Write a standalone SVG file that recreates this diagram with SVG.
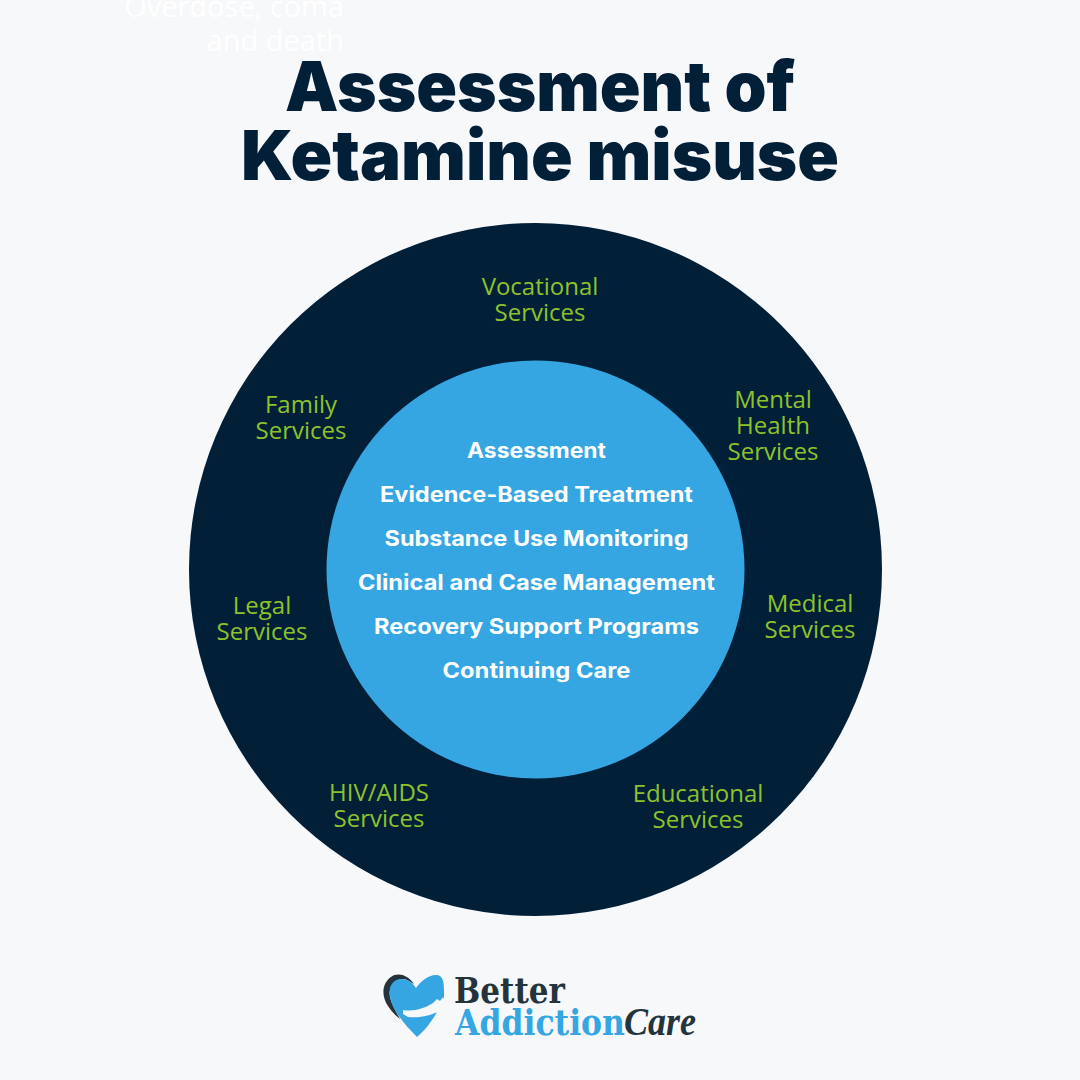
<svg xmlns="http://www.w3.org/2000/svg" width="1080" height="1080" viewBox="0 0 1080 1080">
<style>
.t{font-family:"Inter","Liberation Sans",sans-serif;font-weight:900;font-size:69px;fill:#021f38;text-anchor:middle}
.o{font-family:"Open Sans","Noto Sans",sans-serif;font-size:24px;fill:#8cc22c;text-anchor:middle}
.i{font-family:"Inter","Liberation Sans",sans-serif;font-weight:700;font-size:21px;fill:#fff;text-anchor:middle}
.g{font-family:"Open Sans","Noto Sans",sans-serif;font-size:29px;fill:#fff;text-anchor:end}
.l{font-family:"DejaVu Serif",serif;font-weight:700;font-size:35px}
</style>
<rect width="1080" height="1080" fill="#f6f8fa"/>
<g id="ghost-text"><text class="g" x="344" y="17">Overdose, coma</text><text class="g" x="344" y="51">and death</text></g>
<g id="title"><text class="t" x="540" y="111" textLength="510" lengthAdjust="spacingAndGlyphs">Assessment of</text><text class="t" x="540" y="180" textLength="598" lengthAdjust="spacingAndGlyphs">Ketamine misuse</text></g>
<g id="outer-ring"><circle cx="535.500" cy="569.500" r="346.500" fill="#021f38"/></g>
<g id="inner-circle"><circle cx="535.500" cy="569.500" r="209" fill="#35a6e2"/>
<text class="i" x="536.500" y="458" textLength="139" lengthAdjust="spacingAndGlyphs">Assessment</text>
<text class="i" x="536.500" y="502" textLength="313" lengthAdjust="spacingAndGlyphs">Evidence-Based Treatment</text>
<text class="i" x="536.500" y="546" textLength="304" lengthAdjust="spacingAndGlyphs">Substance Use Monitoring</text>
<text class="i" x="536.500" y="590" textLength="357" lengthAdjust="spacingAndGlyphs">Clinical and Case Management</text>
<text class="i" x="536.500" y="634" textLength="325" lengthAdjust="spacingAndGlyphs">Recovery Support Programs</text>
<text class="i" x="536.500" y="678" textLength="188" lengthAdjust="spacingAndGlyphs">Continuing Care</text></g>
<g id="vocational"><text class="o" x="540" y="295">Vocational</text><text class="o" x="540" y="321">Services</text></g>
<g id="mental"><text class="o" x="773" y="408">Mental</text><text class="o" x="773" y="434">Health</text><text class="o" x="773" y="460">Services</text></g>
<g id="medical"><text class="o" x="810" y="612">Medical</text><text class="o" x="810" y="638">Services</text></g>
<g id="educational"><text class="o" x="698" y="802">Educational</text><text class="o" x="698" y="828">Services</text></g>
<g id="hiv"><text class="o" x="379" y="801">HIV/AIDS</text><text class="o" x="379" y="827">Services</text></g>
<g id="legal"><text class="o" x="262" y="614">Legal</text><text class="o" x="262" y="640">Services</text></g>
<g id="family"><text class="o" x="301" y="413">Family</text><text class="o" x="301" y="439">Services</text></g>
<g id="logo">
<path d="M414 984C408 975 398 972 391 977C382 983 381 996 388 1006C391 1011 395 1015 400 1019C394 1008 388 998 390 990C392 982 400 977 407 980Z" fill="#24343c"/>
<path d="M417 1037C405 1025 392 1010 390 996C388 985 394 979 402 979C408 979 413 983 416 988C420 982 428 975 436 975C443 975 444 982 444 990L444 1004L437 1012C431 1023 424 1031 417 1037Z" fill="#35a6e2"/>
<path d="M403 1010C414 1012 425 1008 433 1003L437 999L440 1001L443 997L445 1001L448 999L447 1005C444 1009 440 1012 435 1013C426 1017 416 1018 408 1017L403 1014Z" fill="#f6f8fa"/>
<text class="l" x="454" y="1003" fill="#24343c" textLength="111" lengthAdjust="spacingAndGlyphs">Better</text>
<text class="l" x="455" y="1035" fill="#35a6e2" textLength="170" lengthAdjust="spacingAndGlyphs">Addiction</text>
<text x="624" y="1035" font-family="Liberation Serif,serif" font-style="italic" font-weight="700" font-size="40" fill="#24343c" textLength="72" lengthAdjust="spacingAndGlyphs">Care</text>
</g>
</svg>
